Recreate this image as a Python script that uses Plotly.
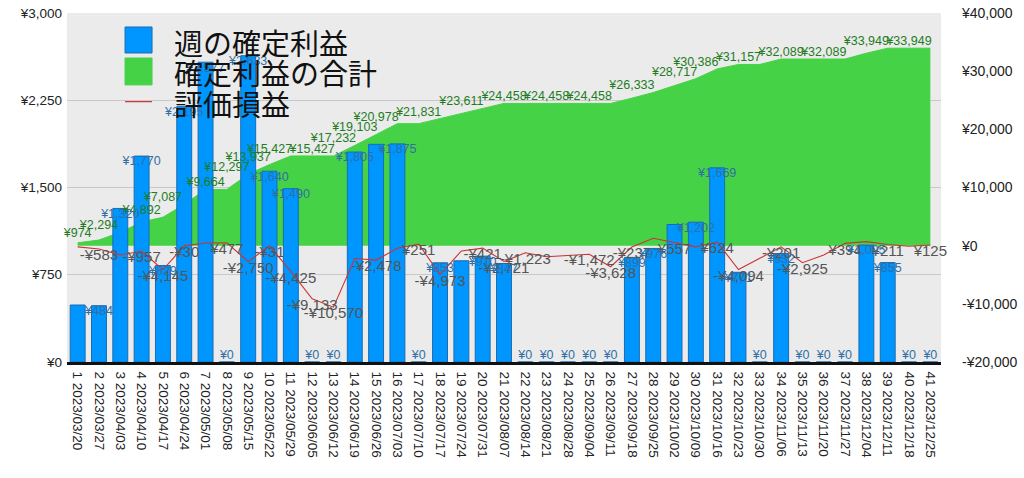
import plotly.graph_objects as go

weeks = list(range(1, 42))
dates = ["2023/03/20", "2023/03/27", "2023/04/03", "2023/04/10", "2023/04/17", "2023/04/24",
         "2023/05/01", "2023/05/08", "2023/05/15", "2023/05/22", "2023/05/29", "2023/06/05",
         "2023/06/12", "2023/06/19", "2023/06/26", "2023/07/03", "2023/07/10", "2023/07/17",
         "2023/07/24", "2023/07/31", "2023/08/07", "2023/08/14", "2023/08/21", "2023/08/28",
         "2023/09/04", "2023/09/11", "2023/09/18", "2023/09/25", "2023/10/02", "2023/10/09",
         "2023/10/16", "2023/10/23", "2023/10/30", "2023/11/06", "2023/11/13", "2023/11/20",
         "2023/11/27", "2023/12/04", "2023/12/11", "2023/12/18", "2023/12/25"]

weekly_profit = [490, 484, 1320, 1770, 829, 2195, 2577, 0, 2633, 1640, 1490, 0, 0, 1805,
                 1871, 1875, 0, 853, 870, 910, 847, 0, 0, 0, 0, 0, 899, 976, 1182, 1202,
                 1669, 771, 0, 932, 0, 0, 0, 1005, 855, 0, 0]

cumulative = [490, 974, 2294, 4064, 4892, 7087, 9664, 9664, 12297, 13937, 15427, 15427,
              15427, 17232, 19103, 20978, 20978, 21831, 22701, 23611, 24458, 24458, 24458,
              24458, 24458, 24458, 25357, 26333, 27515, 28717, 30386, 31157, 31157, 32089,
              32089, 32089, 32089, 33094, 33949, 33949, 33949]

unrealized = [-200, -583, -1600, -957, -4145, -30, 450, 477, -2750, -31, -4425, -9133,
              -10570, -2200, -2478, -450, 251, -4973, -900, -421, -2721, -1223, -1900,
              -1700, -1472, -3628, -237, 1270, 557, -200, 624, -4094, -2170, -201, -2925,
              -1600, 394, 690, 211, -100, 125]

left_ticks = [0, 750, 1500, 2250, 3000]
right_ticks = [-20000, -10000, 0, 10000, 20000, 30000, 40000]

series_names = ["週の確定利益", "確定利益の合計", "評価損益"]
series_colors = ["#0096ff", "#46d246", "#cc3333"]

# labels that the reference hides because they collide (1-based week numbers)
bar_label_hidden = [1, 15, 19, 29]
cum_label_hidden = [3, 6, 11, 16, 18, 20, 22, 24, 26, 28, 31, 33, 35, 37, 39]
unreal_label_hidden = [1, 3, 7, 14, 16, 19, 23, 24, 28, 30, 33, 36, 38, 40]


def yen(v):
    s = f"¥{abs(v):,}"
    return "-" + s if v < 0 else s


cats = [f"{w} {d}" for w, d in zip(weeks, dates)]
lab_font = "Liberation Sans, Noto Sans CJK JP"

fig = go.Figure()

# green cumulative area (right scale, bottom layer)
fig.add_trace(go.Scatter(
    x=cats, y=cumulative, name=series_names[1], mode="lines", fill="tozeroy",
    fillcolor=series_colors[1], line=dict(color=series_colors[1], width=1), yaxis="y"))

# weekly bars (left scale)
fig.add_trace(go.Bar(
    x=cats, y=weekly_profit, name=series_names[0], yaxis="y2", width=0.7,
    marker=dict(color=series_colors[0], line=dict(color="#1a6cb0", width=1))))

# red unrealized line (right scale, above bars)
fig.add_trace(go.Scatter(
    x=cats, y=unrealized, name=series_names[2], mode="lines", yaxis="y3",
    line=dict(color=series_colors[2], width=1.1)))

# cumulative labels
cum_text = [("" if (i + 1) in cum_label_hidden else yen(v)) for i, v in enumerate(cumulative[1:])]
fig.add_trace(go.Scatter(
    x=cats[:-1], y=cumulative[1:], mode="text", text=cum_text, textposition="top center",
    textfont=dict(color="#1e7d1e", size=12.5, family=lab_font), cliponaxis=False,
    yaxis="y3", hoverinfo="skip"))

# unrealized labels
ur_text = [("" if (i + 1) in unreal_label_hidden else yen(v)) for i, v in enumerate(unrealized)]
fig.add_trace(go.Scatter(
    x=cats, y=unrealized, mode="text", text=ur_text, textposition="bottom center",
    textfont=dict(color="#555555", size=15, family=lab_font), cliponaxis=False,
    yaxis="y3", hoverinfo="skip"))

# bar labels
bar_text = [("" if (i + 1) in bar_label_hidden else yen(v)) for i, v in enumerate(weekly_profit)]
bar_pos = ["top center" if v == 0 else "bottom center" for v in weekly_profit]
fig.add_trace(go.Scatter(
    x=cats, y=weekly_profit, mode="text", text=bar_text, textposition=bar_pos,
    textfont=dict(color="#2f6fa6", size=12.5, family=lab_font), cliponaxis=False,
    yaxis="y4", hoverinfo="skip"))

# hand-drawn legend (large swatches as in the reference)
legend_rows = [0.917, 0.831, 0.742]
fig.add_shape(type="rect", xref="paper", yref="paper", x0=0.0664, x1=0.0973, y0=0.8854, y1=0.9599,
              fillcolor=series_colors[0], line=dict(color="#1a6cb0", width=1))
fig.add_shape(type="rect", xref="paper", yref="paper", x0=0.0664, x1=0.0973, y0=0.794, y1=0.871,
              fillcolor=series_colors[1], line=dict(color=series_colors[1], width=1))
fig.add_shape(type="line", xref="paper", yref="paper", x0=0.0664, x1=0.0973, y0=0.746, y1=0.746,
              line=dict(color=series_colors[2], width=1.2))
for name, yy in zip(series_names, legend_rows):
    fig.add_annotation(xref="paper", yref="paper", x=0.1201, y=yy, xanchor="left", yanchor="middle",
                       text=name, showarrow=False,
                       font=dict(family="Noto Sans CJK JP", size=29, color="#111111"))

axis_font = dict(family=lab_font, size=13.5, color="#222222")

fig.update_layout(
    width=1024, height=478,
    margin=dict(l=67, r=83, t=13, b=116),
    paper_bgcolor="white", plot_bgcolor="#ebebeb",
    showlegend=False,
    hovermode=False,
    xaxis=dict(type="category", tickangle=90, tickfont=axis_font, showgrid=False,
               showline=True, linecolor="#111111", linewidth=2.5, ticks="",
               range=[-0.5, 40.5], automargin=False, ticklabelstandoff=4),
    yaxis=dict(side="right", range=[right_ticks[0], right_ticks[-1]], tickvals=right_ticks,
               ticktext=[yen(v) for v in right_ticks], showgrid=False, zeroline=False,
               tickfont=dict(family=lab_font, size=14, color="#222222"),
               ticks="", ticklabelstandoff=20, automargin=False),
    yaxis2=dict(side="left", overlaying="y", range=[left_ticks[0], left_ticks[-1]],
                tickvals=left_ticks, ticktext=[yen(v) for v in left_ticks],
                showgrid=True, gridcolor="#c8c8c8", gridwidth=1, zeroline=False,
                tickfont=axis_font, ticks="", automargin=False, ticklabelstandoff=4),
    yaxis3=dict(overlaying="y", range=[right_ticks[0], right_ticks[-1]], visible=False),
    yaxis4=dict(overlaying="y", range=[left_ticks[0], left_ticks[-1]], visible=False),
)

# remove the default 8px page margin so the figure sits at the window origin
fig.write_html("out.html", config={"displayModeBar": False, "staticPlot": False},
               post_script="document.body.style.margin='0';")
